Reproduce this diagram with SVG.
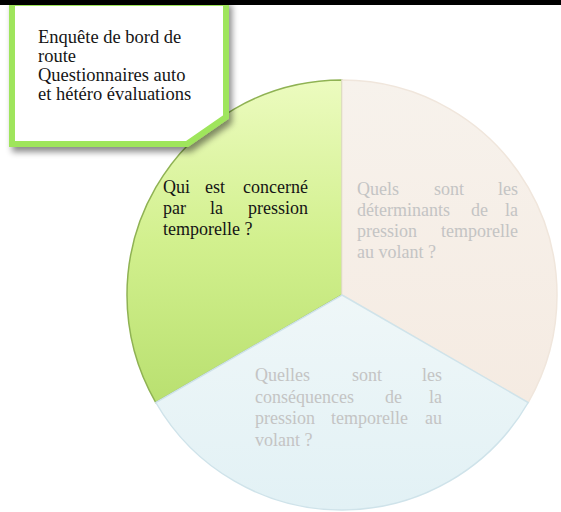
<svg xmlns="http://www.w3.org/2000/svg" width="561" height="512" viewBox="0 0 561 512">
<defs>
<linearGradient id="gGreen" x1="0" y1="0" x2="0" y2="1">
<stop offset="0" stop-color="#ecfbbf"/>
<stop offset="0.5" stop-color="#d2f08e"/>
<stop offset="1" stop-color="#b9e070"/>
</linearGradient>
<linearGradient id="gPeach" x1="0" y1="0" x2="0" y2="1">
<stop offset="0" stop-color="#f7f2ec"/>
<stop offset="1" stop-color="#f5ebe2"/>
</linearGradient>
<linearGradient id="gBlue" x1="0" y1="0" x2="0" y2="1">
<stop offset="0" stop-color="#eff7f8"/>
<stop offset="1" stop-color="#e2f1f5"/>
</linearGradient>
<filter id="shadow" x="-10%" y="-10%" width="130%" height="130%">
<feGaussianBlur in="SourceAlpha" stdDeviation="3"/>
<feOffset dx="3" dy="5" result="b"/>
<feFlood flood-color="#000" flood-opacity="0.45"/>
<feComposite in2="b" operator="in"/>
<feMerge><feMergeNode/><feMergeNode in="SourceGraphic"/></feMerge>
</filter>
</defs>
<style>
.dark{fill:#151515}
.light{fill:#c4c4c4}
</style>
<rect x="0" y="0" width="561" height="512" fill="#fff"/>
<g id="pie">
<g id="slice-green">
<path d="M342,295 L342,80 A215,215 0 0 0 155.8,402.5 Z" fill="url(#gGreen)" stroke="#8fb253" stroke-width="1.5"/>
</g>
<g id="slice-peach">
<path d="M342,295 L342,80 A215,215 0 0 1 528.2,402.5 Z" fill="url(#gPeach)" stroke="#f0e6dc" stroke-width="1.5"/>
</g>
<g id="slice-blue">
<path d="M342,295 L528.2,402.5 A215,215 0 0 1 155.8,402.5 Z" fill="url(#gBlue)" stroke="#cfe3ea" stroke-width="1.5"/>
</g>
<g font-family="Liberation Serif" font-size="18">
<text class="dark"><tspan x="163" y="193">Qui</tspan><tspan x="205" y="193">est</tspan><tspan x="308" y="193" text-anchor="end">concerné</tspan></text>
<text class="dark"><tspan x="163" y="214">par</tspan><tspan x="210" y="214">la</tspan><tspan x="308" y="214" text-anchor="end">pression</tspan></text>
<text class="dark" x="163" y="235">temporelle ?</text>
<text class="light"><tspan x="357" y="195">Quels</tspan><tspan x="434" y="195">sont</tspan><tspan x="518" y="195" text-anchor="end">les</tspan></text>
<text class="light"><tspan x="357" y="216">déterminants</tspan><tspan x="471" y="216">de</tspan><tspan x="518" y="216" text-anchor="end">la</tspan></text>
<text class="light"><tspan x="357" y="237">pression</tspan><tspan x="518" y="237" text-anchor="end">temporelle</tspan></text>
<text class="light" x="357" y="258">au volant ?</text>
<text class="light"><tspan x="255" y="381">Quelles</tspan><tspan x="352" y="381">sont</tspan><tspan x="442" y="381" text-anchor="end">les</tspan></text>
<text class="light"><tspan x="255" y="403">conséquences</tspan><tspan x="385" y="403">de</tspan><tspan x="442" y="403" text-anchor="end">la</tspan></text>
<text class="light"><tspan x="255" y="424">pression</tspan><tspan x="331" y="424">temporelle</tspan><tspan x="442" y="424" text-anchor="end">au</tspan></text>
<text class="light" x="255" y="446">volant ?</text>
</g>
</g>
<g id="callout">
<polygon points="12,3 226,3 226,117 187,144 12,144" fill="#fff" stroke="#9fe55c" stroke-width="6" stroke-linejoin="miter" filter="url(#shadow)"/>
<text class="dark" font-family="Liberation Serif" font-size="18.5"><tspan x="38" y="43">Enquête de bord de</tspan><tspan x="38" y="62">route</tspan><tspan x="38" y="81">Questionnaires auto</tspan><tspan x="38" y="100">et hétéro évaluations</tspan></text>
</g>
<rect x="0" y="0" width="561" height="5" fill="#000"/>
</svg>
